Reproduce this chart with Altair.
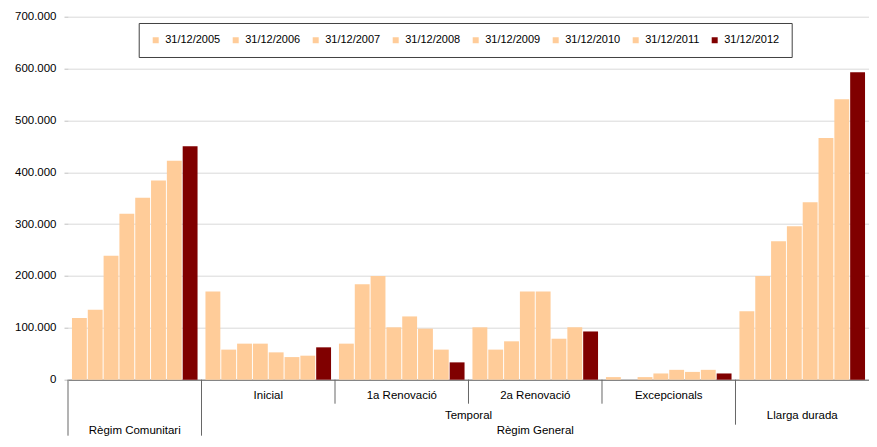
import altair as alt
import pandas as pd

# ---- data ----
groups = ["Règim Comunitari", "Inicial", "1a Renovació", "2a Renovació", "Excepcionals", "Llarga durada"]
dates = ["31/12/2005", "31/12/2006", "31/12/2007", "31/12/2008",
         "31/12/2009", "31/12/2010", "31/12/2011", "31/12/2012"]

regim_comunitari = [119000, 135000, 239000, 320000, 351000, 384000, 422000, 450000]
inicial = [170000, 58000, 69500, 69500, 52700, 43600, 46300, 62400]
renovacio_1a = [69500, 184000, 200000, 101000, 122000, 98400, 58000, 33400]
renovacio_2a = [101000, 58000, 74000, 170000, 170000, 79000, 101000, 93000]
excepcionals = [5000, 0, 5000, 12000, 19000, 15000, 19000, 12000]
llarga_durada = [132000, 200000, 267000, 296000, 342000, 466000, 541000, 593000]

series = [regim_comunitari, inicial, renovacio_1a, renovacio_2a, excepcionals, llarga_durada]

# hierarchical category labels
level1_labels = ["Inicial", "1a Renovació", "2a Renovació", "Excepcionals"]
level2_span_label = "Temporal"
level2_single_label = "Llarga durada"
level3_labels = ["Règim Comunitari", "Règim General"]

y_ticks = [0, 100000, 200000, 300000, 400000, 500000, 600000, 700000]

colors = ["#FFCC99"] * 7 + ["#800000"]

rows = []
for g, vals in zip(groups, series):
    for d, v in zip(dates, vals):
        rows.append({"group": g, "date": d, "value": v})
df = pd.DataFrame(rows)

# ---- styling ----
FONT = "Liberation Sans"
H = 363
W = 801
BOTTOM = 56
SEP = "#666666"

xscale = alt.Scale(domain=groups, paddingInner=0, paddingOuter=0)
x_axis = alt.Axis(labels=False, ticks=False, domain=True, domainColor="#595959",
                  domainWidth=1, grid=False, title=None)

y_axis = alt.Axis(values=y_ticks, grid=True, gridColor="#d9d9d9", gridWidth=1,
                  domain=False, tickColor="#bfbfbf", tickSize=4, labelPadding=8,
                  labelFont=FONT, labelFontSize=11.5, labelColor="#000000",
                  labelExpr="replace(format(datum.value, ','), ',', '.')", title=None)

legend = alt.Legend(title=None, orient="none", legendX=70.7, legendY=6.3,
                    direction="horizontal", columns=8, symbolType="square",
                    symbolSize=36, symbolStrokeWidth=0, symbolOpacity=1,
                    labelFont=FONT, labelFontSize=11, labelColor="#000000",
                    labelOffset=4, columnPadding=9, padding=11.5,
                    strokeColor="#404040", fillColor="white")

bars = alt.Chart(df).mark_bar().encode(
    x=alt.X("group:N", scale=xscale, axis=x_axis),
    xOffset=alt.XOffset("date:N", scale=alt.Scale(domain=dates, paddingInner=0.06, paddingOuter=0.25)),
    y=alt.Y("value:Q", scale=alt.Scale(domain=[0, 700000], nice=False), axis=y_axis),
    color=alt.Color("date:N", scale=alt.Scale(domain=dates, range=colors), legend=legend),
)


def sep_rule(names, length):
    return alt.Chart(pd.DataFrame({"group": names})).mark_rule(color=SEP, strokeWidth=1).encode(
        x=alt.X("group:N", scale=xscale, axis=x_axis, bandPosition=0),
        y=alt.value(H),
        y2=alt.value(H + length),
    )


rule_full = sep_rule([groups[0], groups[1]], BOTTOM)
rule_short = sep_rule([groups[2], groups[3], groups[4]], 24)
rule_mid = sep_rule([groups[5]], 45)


def label_layer(names, labels, band_pos, dy):
    return alt.Chart(pd.DataFrame({"group": names, "label": labels})).mark_text(
        font=FONT, fontSize=11.5, color="#000000", baseline="middle", align="center"
    ).encode(
        x=alt.X("group:N", scale=xscale, axis=x_axis, bandPosition=band_pos),
        y=alt.value(H + dy),
        text="label:N",
    )


row1 = label_layer(level1_labels, level1_labels, 0.5, 16)
row2a = label_layer([groups[3]], [level2_span_label], 0, 36)
row2b = label_layer([groups[5]], [level2_single_label], 0.5, 36)
row3 = label_layer([groups[0], groups[3]], level3_labels, 0.5, 51)

chart = alt.layer(bars, rule_full, rule_short, rule_mid, row1, row2a, row2b, row3).properties(
    width=W, height=H,
    autosize=alt.AutoSizeParams(type="none"),
    padding={"left": 60, "top": 8.7, "right": 0, "bottom": BOTTOM},
).configure_view(stroke=None)

chart.save("out.html", embed_options={"renderer": "svg", "actions": False})
